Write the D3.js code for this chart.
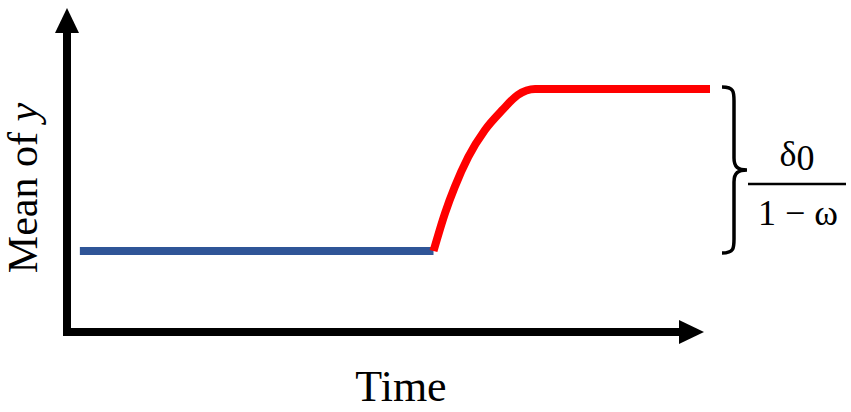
<!DOCTYPE html>
<html>
<head>
<meta charset="utf-8">
<script src="https://cdn.jsdelivr.net/npm/d3@7"></script>
<style>
html,body{margin:0;padding:0;background:#fff;}
svg{display:block;}
text{font-family:"Liberation Serif","Times New Roman",serif;fill:#000;}
</style>
</head>
<body>
<svg id="chart" width="851" height="412"></svg>
<script>
// Data (time in arbitrary units, mean of y in units of the step size)
const preTime   = [2, 57.0];
const preMean   = [0, 0];
const postTime  = [57.0, 58.8, 60.3, 62.4, 65.0, 67.7, 70.1, 72.8, 100];
const postMean  = [0, 0.235, 0.395, 0.58, 0.747, 0.87, 0.963, 1.0, 1.0];
const xLabel = "Time";
const yLabelMain = "Mean of ";
const yLabelVar = "y";
const fracNum = "δ";
const fracNumSub = "0";
const fracDen = "1 − ω";

const svg = d3.select("#chart");
const x = d3.scaleLinear().domain([0, 100]).range([67, 710]);
const y = d3.scaleLinear().domain([-0.5, 1.5]).range([332, 8]);

const line = d3.line().x(d => x(d[0])).y(d => y(d[1]));

// axes
const axisW = 8;
svg.append("line")
  .attr("x1", x(0)).attr("y1", y(-0.5) + axisW/2)
  .attr("x2", x(0)).attr("y2", y(1.5) + 22)
  .attr("stroke", "#000").attr("stroke-width", axisW);
svg.append("path")
  .attr("d", `M${x(0)},${y(1.5)} L${x(0)-12},${y(1.5)+25} L${x(0)+12},${y(1.5)+25} Z`)
  .attr("fill", "#000");
svg.append("line")
  .attr("x1", x(0) - axisW/2).attr("y1", y(-0.5))
  .attr("x2", x(100) - 22).attr("y2", y(-0.5))
  .attr("stroke", "#000").attr("stroke-width", axisW);
svg.append("path")
  .attr("d", `M${x(100)-6},${y(-0.5)} L${x(100)-31},${y(-0.5)-12} L${x(100)-31},${y(-0.5)+12} Z`)
  .attr("fill", "#000");

// series
svg.append("path")
  .datum(preTime.map((t, i) => [t, preMean[i]]))
  .attr("d", line).attr("fill", "none")
  .attr("stroke", "#2F5597").attr("stroke-width", 8);
svg.append("path")
  .datum(postTime.map((t, i) => [t, postMean[i]]))
  .attr("d", d3.line().x(d => x(d[0])).y(d => y(d[1])).curve(d3.curveMonotoneX))
  .attr("fill", "none")
  .attr("stroke", "#FF0000").attr("stroke-width", 8)
  .attr("stroke-linejoin", "round");

// brace spanning the level shift
const bTop = y(1) - 2, bBot = y(0) + 2, bMid = (bTop + bBot) / 2;
const bx0 = 722, bx1 = 734, bTip = 747;
svg.append("path")
  .attr("d", `M${bx0},${bTop} C${bx1},${bTop} ${bx1},${bTop+5} ${bx1},${bTop+14}
     L${bx1},${bMid-12} C${bx1},${bMid-3} ${bx1+4},${bMid} ${bTip},${bMid}
     C${bx1+4},${bMid} ${bx1},${bMid+3} ${bx1},${bMid+12}
     L${bx1},${bBot-14} C${bx1},${bBot-5} ${bx1},${bBot} ${bx0},${bBot}`)
  .attr("fill", "none").attr("stroke", "#000").attr("stroke-width", 3.5);

// fraction
const num = svg.append("text").attr("x", 797).attr("y", 166)
  .attr("text-anchor", "middle").attr("font-size", 36)
  .attr("font-family", "Liberation Serif");
num.append("tspan").text(fracNum);
num.append("tspan").attr("dy", 4).text(fracNumSub);
svg.append("line").attr("x1", 748).attr("x2", 846).attr("y1", 184).attr("y2", 184)
  .attr("stroke", "#000").attr("stroke-width", 2.5);
svg.append("text").attr("x", 798).attr("y", 225)
  .attr("text-anchor", "middle").attr("font-size", 36)
  .attr("font-family", "Liberation Serif").text(fracDen);

// axis labels
svg.append("text").attr("x", 401).attr("y", 401)
  .attr("text-anchor", "middle").attr("font-size", 44).text(xLabel);
const yl = svg.append("text")
  .attr("transform", "translate(37,188) rotate(-90)")
  .attr("text-anchor", "middle").attr("font-size", 42);
yl.append("tspan").text(yLabelMain);
yl.append("tspan").attr("font-style", "italic").text(yLabelVar);
</script>
</body>
</html>
